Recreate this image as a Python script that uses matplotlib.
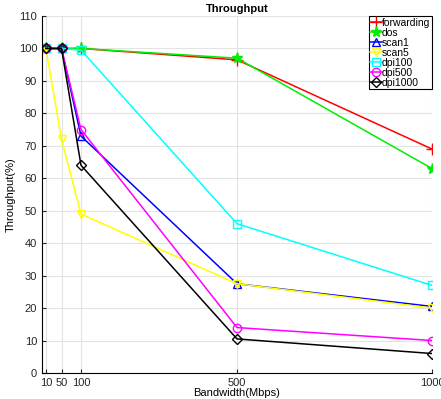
import matplotlib
matplotlib.use('Agg')
import matplotlib.pyplot as plt

plt.rcParams['font.family'] = ['Liberation Sans', 'DejaVu Sans']

bandwidth = [10, 50, 100, 500, 1000]
forwarding = [100, 100, 100, 96.5, 69]
dos = [100, 100, 100, 97, 63]
scan1 = [100, 100, 73, 27.5, 20.5]
scan5 = [100, 72, 49, 27.5, 20]
dpi100 = [100, 100, 99.5, 46, 27]
dpi500 = [100, 100, 75, 14, 10]
dpi1000 = [100, 100, 64, 10.5, 6]

series = [
    ('forwarding', forwarding, 'red', '+', 8),
    ('dos', dos, '#00ee00', '*', 8),
    ('scan1', scan1, 'blue', '^', 6),
    ('scan5', scan5, 'yellow', 'v', 6),
    ('dpi100', dpi100, 'cyan', 's', 6),
    ('dpi500', dpi500, 'magenta', 'o', 6),
    ('dpi1000', dpi1000, 'black', 'D', 5),
]

fig = plt.figure(figsize=(4.41, 3.99), dpi=100)
ax = fig.add_axes([42 / 441, 1 - 373 / 399, 390 / 441, 357 / 399])

for name, vals, color, marker, ms in series:
    if marker in ('+', '*'):
        ax.plot(bandwidth, vals, color=color, marker=marker, markersize=ms,
                linewidth=1.1, label=name, markeredgewidth=1)
    else:
        ax.plot(bandwidth, vals, color=color, marker=marker, markersize=ms,
                linewidth=1.1, label=name, markerfacecolor='none',
                markeredgewidth=1)

ax.set_xlim(0, 1000)
ax.set_ylim(0, 110)
ax.set_xticks(bandwidth)
ax.set_yticks(range(0, 111, 10))
ax.tick_params(direction='in', labelsize=8, length=3, colors='#262626')
ax.grid(True, color='#e3e3e3', linewidth=0.8)
ax.set_axisbelow(True)
ax.spines['top'].set_visible(False)
ax.spines['right'].set_visible(False)
ax.set_title('Throughput', fontsize=8, fontweight='bold', pad=3)
ax.set_xlabel('Bandwidth(Mbps)', fontsize=8, labelpad=0)
ax.set_ylabel('Throughput(%)', fontsize=8, labelpad=2)

leg = ax.legend(loc='upper right', fontsize=7.5, handlelength=1.1,
                handletextpad=0.05, borderpad=0.15, labelspacing=0.0,
                borderaxespad=0, fancybox=False, framealpha=1)
leg.get_frame().set_edgecolor('black')
leg.get_frame().set_linewidth(0.8)

fig.savefig('out.png', dpi=100)
